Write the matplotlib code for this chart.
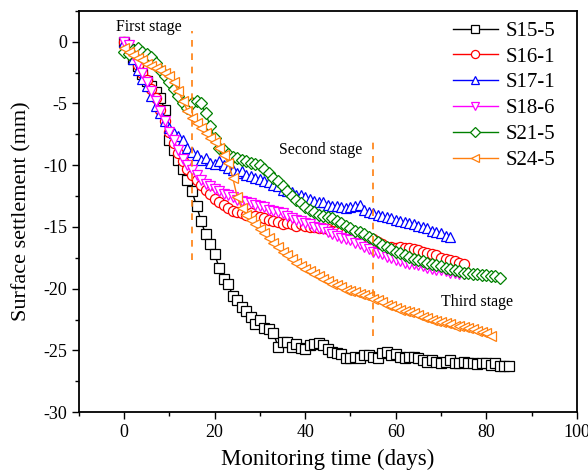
import matplotlib
matplotlib.use('Agg')
from matplotlib import pyplot as plt
from matplotlib.ticker import MultipleLocator

# monitoring data (days, settlement in mm)
s15_5 = [0, -0.6, -1.4, -2.0, -2.6, -3.2, -3.6, -4.1, -4.6, -5.5,
         -8.0, -8.8, -9.6, -10.3, -11.2, -12.1, -13.3, -14.5, -15.6, -16.4,
         -17.2, -18.3, -19.2, -19.6, -20.6, -20.9, -21.5, -21.8, -22.3, -22.9,
         -22.5, -23.2, -23.3, -23.6, -24.7, -24.3, -24.3, -24.7, -24.5, -24.8,
         -24.9, -24.6, -24.5, -24.4, -24.6, -24.9, -25.1, -25.2, -25.3, -25.6,
         -25.6, -25.5, -25.6, -25.4, -25.4, -25.5, -25.6, -25.2, -25.1, -25.4,
         -25.3, -25.5, -25.6, -25.5, -25.5, -25.6, -25.8, -25.9, -25.8, -25.9,
         -26.0, -25.9, -25.8, -26.0, -26.0, -25.9, -26.0, -26.0, -26.1, -26.0,
         -26.0, -26.2, -26.0, -26.3, -26.3, -26.3]
s16_1 = [0, -0.5, -1.2, -1.9, -2.5, -3.1, -3.8, -4.6, -5.5, -6.4,
         -7.3, -8.2, -9.0, -9.7, -10.3, -10.8, -11.2, -11.6, -12.0, -12.3,
         -12.7, -13.0, -13.2, -13.5, -13.7, -13.8, -13.9, -14.0, -13.9, -14.1,
         -14.2, -14.3, -14.4, -14.5, -14.6, -14.8, -14.7, -14.8, -14.9, -14.8,
         -14.9, -15.0, -15.0, -15.1, -15.1, -15.2, -15.3, -15.3, -15.4, -15.5,
         -15.5, -15.6, -15.7, -15.8, -15.9, -16.0, -16.2, -16.4, -16.6, -16.6,
         -16.7, -16.6, -16.7, -16.7, -16.8, -16.9, -17.0, -17.1, -17.2, -17.3,
         -17.5, -17.6, -17.7, -17.8, -17.9, -18.0]
s17_1 = [0, -0.6, -1.4, -2.3, -3.0, -3.6, -4.4, -5.2, -5.8, -6.4,
         -7.0, -7.4, -7.6, -8.0, -8.6, -8.9, -9.2, -9.6, -9.4, -9.8,
         -9.9, -9.7, -10.0, -10.2, -10.4, -10.6, -10.5, -10.8, -10.9, -11.0,
         -11.1, -11.3, -11.4, -11.6, -11.7, -12.0, -12.1, -12.2, -12.4, -12.4,
         -12.6, -12.7, -12.9, -13.0, -13.0, -13.2, -13.3, -13.3, -13.4, -13.5,
         -13.4, -13.3, -13.2, -13.6, -13.8, -13.9, -14.0, -14.1, -14.2, -14.3,
         -14.4, -14.5, -14.6, -14.7, -14.8, -14.9, -15.0, -15.1, -15.3, -15.4,
         -15.5, -15.7, -15.8]
s18_6 = [0, -0.3, -1.1, -1.8, -2.5, -3.3, -4.0, -4.8, -5.6, -6.4,
         -7.3, -8.0, -8.8, -9.5, -10.0, -10.4, -10.8, -11.2, -11.5, -11.7,
         -11.9, -12.1, -12.3, -12.4, -12.6, -12.8, -12.9, -13.0, -13.1, -13.2,
         -13.3, -13.4, -13.6, -13.7, -13.8, -13.9, -14.1, -14.3, -14.4, -14.5,
         -14.7, -14.8, -15.0, -15.1, -15.2, -15.4, -15.6, -15.7, -15.9, -16.0,
         -16.1, -16.3, -16.4, -16.6, -16.8, -17.0, -17.1, -17.2, -17.4, -17.5,
         -17.7, -17.8, -17.9, -18.0, -18.0, -18.1, -18.2, -18.3, -18.4, -18.5,
         -18.5, -18.6, -18.7, -18.7, -18.8, -18.8]
s21_5 = [-0.8, -1.0, -0.7, -0.5, -0.8, -1.0, -1.2, -1.7, -2.3, -2.8,
         -3.3, -3.8, -4.4, -5.0, -5.4, -5.0, -4.8, -5.0, -5.8, -6.8,
         -7.8, -8.6, -8.8, -9.1, -9.3, -9.4, -9.6, -9.7, -9.8, -9.9,
         -10.0, -10.3, -10.6, -11.0, -11.3, -11.7, -12.1, -12.5, -12.8, -13.1,
         -13.4, -13.6, -13.8, -14.0, -14.1, -14.2, -14.3, -14.5, -14.7, -14.9,
         -15.1, -15.3, -15.4, -15.6, -15.8, -16.0, -16.2, -16.5, -16.6, -16.8,
         -17.0, -17.1, -17.3, -17.4, -17.6, -17.7, -17.8, -17.9, -18.0, -18.1,
         -18.2, -18.3, -18.4, -18.5, -18.6, -18.7, -18.7, -18.8, -18.8, -18.9,
         -18.9, -19.0, -19.0, -19.1]
s24_5 = [-0.5, -0.8, -1.1, -1.3, -1.5, -1.8, -2.0, -2.1, -2.3, -2.5,
         -2.8, -3.3, -4.0, -4.8, -5.6, -6.2, -6.6, -7.0, -7.4, -7.8,
         -8.1, -8.6, -9.2, -9.8, -11.0, -12.6, -13.5, -14.0, -14.4, -14.8,
         -15.2, -15.5, -15.9, -16.3, -16.6, -17.0, -17.3, -17.6, -17.9, -18.2,
         -18.4, -18.6, -18.8, -19.0, -19.2, -19.4, -19.6, -19.7, -19.9, -20.1,
         -20.2, -20.3, -20.4, -20.5, -20.6, -20.8, -20.9, -21.1, -21.3, -21.4,
         -21.6, -21.7, -21.8, -21.9, -22.0, -22.1, -22.3, -22.4, -22.5, -22.6,
         -22.7, -22.8, -22.9, -23.0, -23.0, -23.1, -23.2, -23.3, -23.4, -23.5,
         -23.6, -23.8]

labels = ['S15-5', 'S16-1', 'S17-1', 'S18-6', 'S21-5', 'S24-5']
series = [s15_5, s16_1, s17_1, s18_6, s21_5, s24_5]
colors = ['black', 'red', 'blue', 'magenta', 'green', '#ff7f0e']
markers = ['s', 'o', '^', 'v', 'D', '<']

stage_x = [15, 55]
stage_ymin = [-17.7, -23.8]
stage_ymax = [0.9, -7.6]

plt.rcParams['font.family'] = ['Liberation Serif', 'DejaVu Serif']
plt.rcParams['axes.unicode_minus'] = False

fig = plt.figure(figsize=(5.88, 4.71), dpi=100)
ax = fig.add_axes([0.134, 0.125, 0.847, 0.852])

for y, lab, c, m in zip(series, labels, colors, markers):
    x = list(range(len(y)))
    ms = 6.3 if m == 'D' else 7.3
    ax.plot(x, y, color=c, lw=1.0, marker=m, ms=ms, mfc='white',
            mec=c, mew=0.9, label=lab)

for xs, y0, y1 in zip(stage_x, stage_ymin, stage_ymax):
    ax.plot([xs, xs], [y0, y1], ls=(0, (4, 4)), color='#ff7f0e', lw=1.2)

ax.text(-1.8, 1.2, 'First stage', fontsize=11.4, va='center')
ax.text(34.2, -8.75, 'Second stage', fontsize=11.4, va='center')
ax.text(70.0, -21.1, 'Third stage', fontsize=11.4, va='center')

ax.set_xlim(-10, 100)
ax.set_ylim(-30, 2.5)
ax.xaxis.set_major_locator(MultipleLocator(20))
ax.xaxis.set_minor_locator(MultipleLocator(10))
ax.yaxis.set_major_locator(MultipleLocator(5))
ax.yaxis.set_minor_locator(MultipleLocator(2.5))
ax.tick_params(which='major', direction='out', length=5, width=1.0, labelsize=13)
ax.tick_params(which='minor', direction='out', length=3, width=1.0)
for sp in ax.spines.values():
    sp.set_linewidth(1.3)

ax.set_xlabel('Monitoring time (days)', fontsize=16.5, labelpad=6)
ax.set_ylabel('Surface settlement (mm)', fontsize=16, labelpad=8)

leg = ax.legend(loc='upper right', bbox_to_anchor=(0.978, 1.0), fontsize=15,
                frameon=False, handlelength=2.2, handletextpad=0.35,
                labelspacing=0.3, borderaxespad=0.3, borderpad=0.2,
                markerscale=0.8)

plt.savefig('out.png', dpi=100)
